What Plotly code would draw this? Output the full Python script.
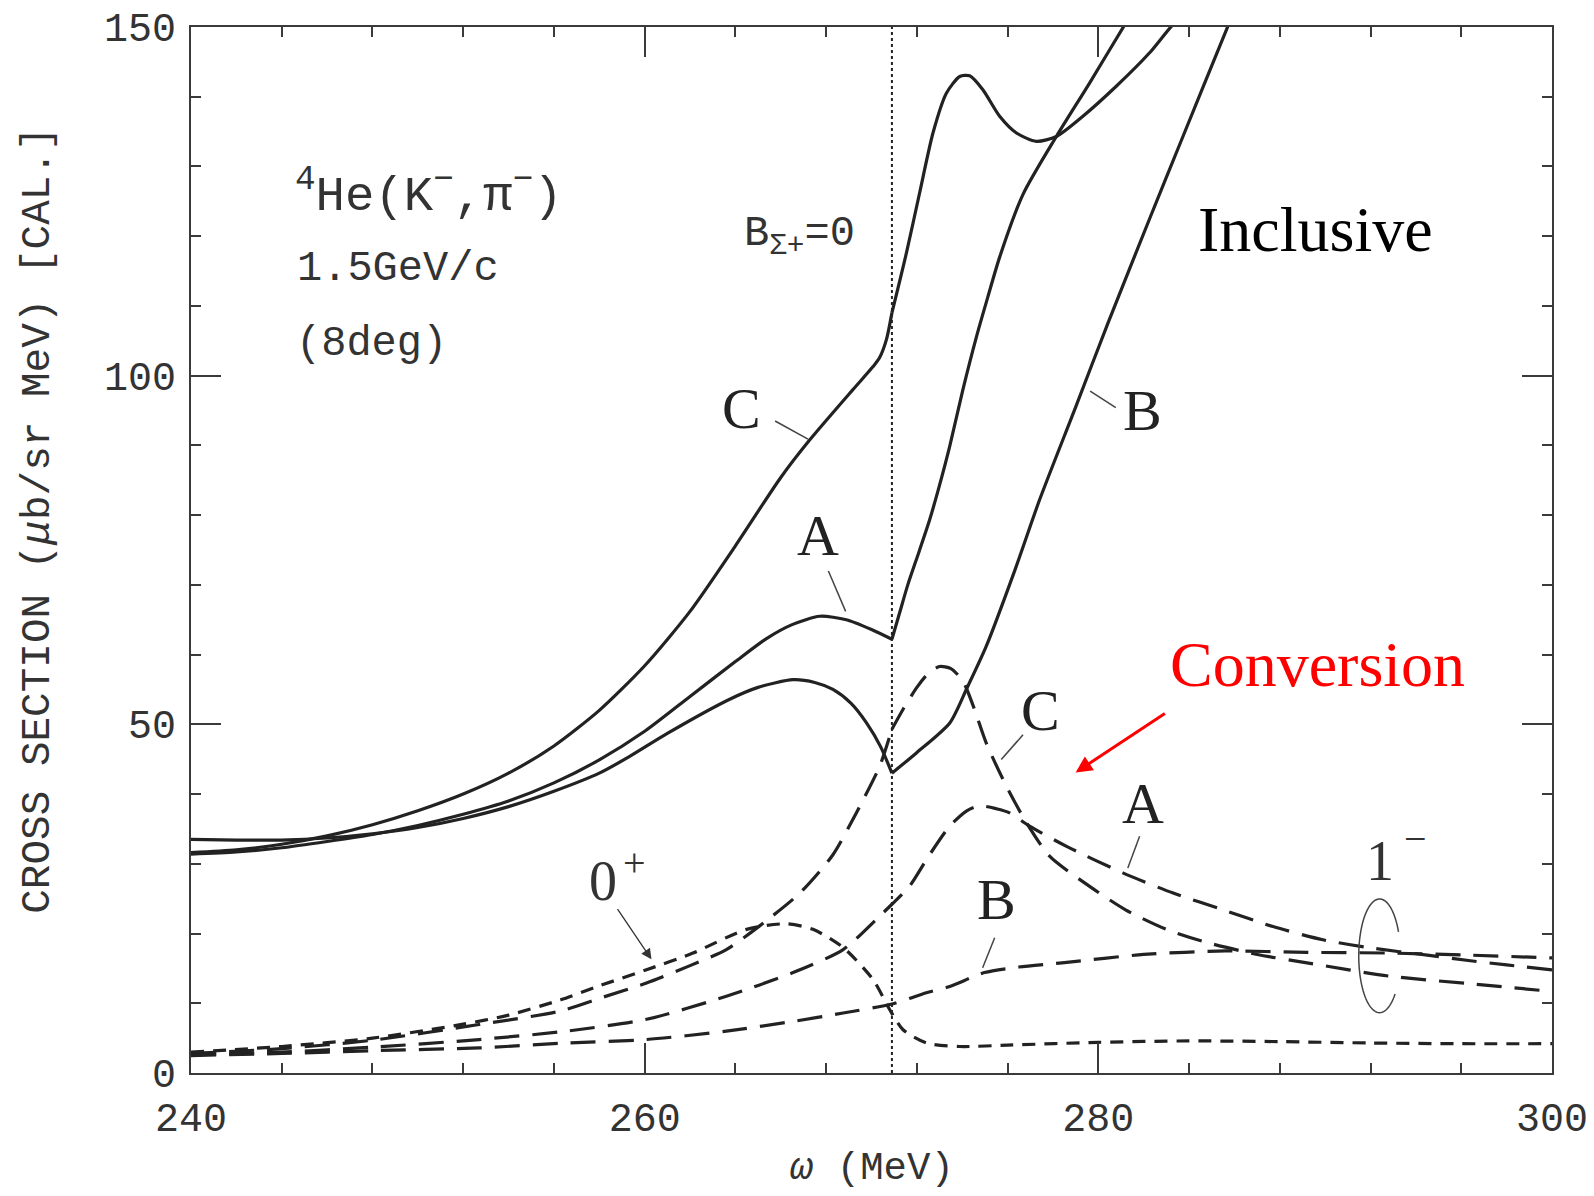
import numpy as np
import plotly.graph_objects as go

THR = 270.9  # B_Sigma+ = 0 threshold (MeV)

# ---------------- Inclusive (solid) ----------------
incl_C_x = [240, 242, 244, 246, 248, 250, 252, 254, 256, 258, 260, 262, 264, 266, 267.28,
            269.18, 270.07, 270.36, 270.66, 270.9, 271.54, 272.12, 272.71, 273.30, 273.89, 274.33,
            274.91, 275.65, 276.39, 277.27, 278.15, 279.32, 280.79, 282.26, 283.22, 284.0]
incl_C_y = [31.6, 32.0, 32.8, 34.0, 35.6, 37.6, 40.0, 43.0, 46.9, 52.0, 58.4, 66.2, 75.6, 85.4, 90.8,
            98.0, 101.3, 102.6, 105.2, 109.0, 117.6, 126.2, 134.8, 140.5, 142.9, 143.0,
            141.0, 137.2, 134.8, 133.6, 134.3, 137.2, 141.5, 146.3, 150.1, 152.6]

incl_A_x = [240, 242, 244, 246, 248, 250, 252, 254, 256, 258, 260, 262, 264, 265.37, 266.5,
            267.72, 268.89, 270, 270.9, 271.24, 271.6, 272.1, 272.56, 273.0, 273.45, 274.03, 274.62,
            275.13, 275.65, 276.68, 278.15, 279.62, 281.16, 281.6]
incl_A_y = [31.4, 31.7, 32.3, 33.2, 34.2, 35.5, 37.1, 39.0, 41.6, 44.9, 49.0, 54.0, 59.0, 62.3, 64.3,
            65.5, 65.0, 63.6, 62.2, 66.0, 70.0, 74.8, 79.3, 84.3, 89.9, 98.0, 105.5,
            111.3, 117.0, 126.0, 134.3, 142.0, 150.3, 152.6]

incl_B_x = [240, 242, 244, 246, 248, 250, 252, 254, 256, 258, 259.34, 261, 263.75, 265, 266.54, 267.5,
            268.3, 269.1, 269.78, 270.4, 270.9, 271.98, 273.45, 274.18, 275.06, 276.31, 277.41,
            279.0, 280.42, 282.26, 283.73, 285.71, 286.1]
incl_B_y = [33.5, 33.4, 33.4, 33.7, 34.3, 35.2, 36.5, 38.2, 40.4, 43.0, 45.4, 48.7, 53.6, 55.3, 56.4, 56.0,
            55.0, 53.0, 50.2, 46.8, 43.0, 45.9, 50.2, 55.0, 61.2, 72.0, 82.2,
            95.5, 107.5, 122.5, 134.3, 150.1, 153.0]

# ---------------- Conversion (dashed) ----------------
conv_0p_x = [240, 244, 248, 252, 254, 256.3, 258, 260.08, 262.13, 264.49, 266.25, 267.42, 268.75,
             270.07, 270.8, 271.39, 272.42, 273.89, 276, 280, 284, 288, 292, 296, 300]
conv_0p_y = [3.0, 3.8, 5.0, 7.0, 8.3, 10.5, 12.5, 14.8, 17.2, 20.6, 21.4, 20.6, 18.0,
             13.4, 9.1, 6.2, 4.3, 3.8, 4.0, 4.4, 4.6, 4.5, 4.3, 4.2, 4.2]

conv_C_x = [240, 244, 248, 252.7, 256.3, 258, 260.08, 262, 263.6, 265.07, 266.84, 268.3, 269.33,
            270.36, 270.9, 271.4, 272.0, 272.5, 273.0, 273.5, 274.03, 274.5, 275.06, 275.95, 276.83,
            277.85, 279.6, 281.2, 283.0, 284.8, 287.0, 289.2, 292.8, 296.4, 300]
conv_C_y = [2.8, 3.5, 4.7, 6.95, 8.9, 10.7, 12.9, 15.4, 17.7, 21.1, 25.8, 31.3, 37.3,
            44.0, 49.3, 52.2, 55.3, 57.3, 58.3, 58.0, 56.2, 52.5, 47.3, 41.1, 35.9,
            31.1, 26.8, 23.4, 20.6, 18.7, 17.0, 15.8, 13.9, 12.8, 11.7]

conv_A_x = [240, 244, 248, 252.7, 256.55, 260.08, 263.6, 266.54, 268.75, 270.36, 270.9, 271.68, 272.5,
            273.45, 274.2, 274.77, 275.5, 276.09, 276.97, 278.6, 281.08, 283.3, 285.5, 287.7, 289.9,
            292.1, 294.5, 296.4, 298, 300]
conv_A_y = [2.6, 3.0, 3.7, 4.8, 6.0, 7.7, 11.0, 14.4, 17.7, 22.5, 24.2, 26.8, 31.0,
            35.4, 37.6, 38.3, 37.9, 37.3, 35.4, 32.5, 28.7, 25.8, 23.4, 21.0, 19.1,
            17.9, 16.9, 16.1, 15.5, 14.8]

conv_B_x = [240, 244, 248, 252.7, 256.55, 260.08, 263.6, 266.54, 268.75, 270.9, 272.42, 273.45, 274.98,
            276.5, 278.4, 282.0, 285.6, 289.2, 292.8, 296.4, 300]
conv_B_y = [2.5, 2.8, 3.2, 3.6, 4.3, 4.8, 6.0, 7.4, 8.6, 9.9, 11.5, 12.4, 14.4,
            15.2, 15.8, 17.0, 17.5, 17.3, 17.2, 16.9, 16.5]

x_ticks = [240, 260, 280, 300]
y_ticks = [0, 50, 100, 150]

INK = "#222222"
GREY = "#3a3a3a"
MONO = "Liberation Mono"
SERIF = "Liberation Serif"

fig = go.Figure()


def add_curve(xs, ys, dash, split=True):
    xs = np.asarray(xs, float)
    ys = np.asarray(ys, float)
    segs = [(xs <= THR + 1e-9), (xs >= THR - 1e-9)] if split else [np.ones_like(xs, bool)]
    for m in segs:
        if m.sum() < 2:
            continue
        fig.add_trace(go.Scatter(
            x=xs[m], y=ys[m], mode="lines",
            line=dict(color=INK, width=3.2, dash=dash, shape="spline", smoothing=0.7),
            hoverinfo="skip", showlegend=False))


SOLID = "solid"
LONG = "25px,13px"
SHORT = "13px,9px"

add_curve(incl_C_x, incl_C_y, SOLID)
add_curve(incl_A_x, incl_A_y, SOLID)
add_curve(incl_B_x, incl_B_y, SOLID)
add_curve(conv_0p_x, conv_0p_y, SHORT, split=False)
add_curve(conv_C_x, conv_C_y, LONG)
add_curve(conv_A_x, conv_A_y, LONG, split=False)
add_curve(conv_B_x, conv_B_y, LONG, split=False)

shapes = []
# threshold dotted line
shapes.append(dict(type="line", xref="x", yref="y", x0=THR, x1=THR, y0=0, y1=150,
                   line=dict(color=INK, width=2, dash="dot")))
# leader lines for labels
leaders = [
    ((265.75, 93.5), (267.2, 90.9)),     # solid C
    ((268.1, 72.0), (268.86, 66.2)),     # solid A
    ((279.64, 97.8), (280.77, 95.4)),    # solid B
    ((276.68, 48.5), (275.72, 44.95)),   # dashed C
    ((281.82, 33.95), (281.3, 29.4)),    # dashed A
    ((275.43, 19.4), (274.9, 15.1)),     # dashed B
]
for (xa, ya), (xb, yb) in leaders:
    shapes.append(dict(type="line", xref="x", yref="y", x0=xa, y0=ya, x1=xb, y1=yb,
                       line=dict(color="#444", width=1.5)))

# open ellipse around the 1- curves
cx, cy, rx, ry = 292.4, 16.8, 0.92, 8.15
t = np.radians(np.linspace(25, 318, 80))
ex = cx + rx * np.cos(t)
ey = cy + ry * np.sin(t)
path = "M " + " L ".join(f"{a:.4f},{b:.4f}" for a, b in zip(ex, ey))
shapes.append(dict(type="path", xref="x", yref="y", path=path,
                   line=dict(color="#444", width=1.5)))

ann = []


def txt(x, y, s, size, family=MONO, color="#333", xanchor="center", yanchor="middle"):
    ann.append(dict(x=x, y=y, xref="x", yref="y", text=s, showarrow=False,
                    font=dict(family=family, size=size, color=color),
                    xanchor=xanchor, yanchor=yanchor))


txt(244.5, 126.3, "<sup>4</sup>He(K<sup>−</sup>,π<sup>−</sup>)", 49, xanchor="left")
txt(244.6, 115.3, "1.5GeV/c", 42, xanchor="left")
txt(244.55, 104.6, "(8deg)", 42, xanchor="left")
txt(264.3, 119.9, "B<sub>Σ+</sub>=0", 42, xanchor="left")

txt(284.3, 121.0, "Inclusive", 64, family=SERIF, color="#000", xanchor="left")
txt(283.05, 58.6, "Conversion", 64, family=SERIF, color="#ff0000", xanchor="left")

# curve labels
txt(264.28, 95.3, "C", 58, family=SERIF, color="#222")
txt(267.64, 77.1, "A", 58, family=SERIF, color="#222")
txt(281.93, 95.0, "B", 58, family=SERIF, color="#222")
txt(277.46, 52.0, "C", 58, family=SERIF, color="#222")
txt(281.98, 38.7, "A", 58, family=SERIF, color="#222")
txt(275.53, 24.9, "B", 58, family=SERIF, color="#222")
txt(258.17, 27.5, "0", 56, family=SERIF, color="#333")
txt(259.56, 30.2, "+", 40, family=SERIF, color="#333")
txt(292.4, 30.4, "1", 56, family=SERIF, color="#333")
txt(294.0, 33.6, "−", 40, family=SERIF, color="#333")

# 0+ arrow
ann.append(dict(x=260.3, y=16.3, ax=258.76, ay=23.7, xref="x", yref="y", axref="x", ayref="y",
                text="", showarrow=True, arrowhead=2, arrowsize=1.6, arrowwidth=1.3,
                arrowcolor="#333"))
# red Conversion arrow
ann.append(dict(x=279.0, y=43.1, ax=283.0, ay=51.7, xref="x", yref="y", axref="x", ayref="y",
                text="", showarrow=True, arrowhead=2, arrowsize=1.1, arrowwidth=3,
                arrowcolor="#ff0000"))

# axis titles
ann.append(dict(x=-0.1124, y=0.528, xref="paper", yref="paper", textangle=-90,
                text="CROSS SECTION (<i>μ</i>b/sr MeV) [CAL.]", showarrow=False,
                font=dict(family=MONO, size=41, color="#333"), xanchor="center", yanchor="middle"))
ann.append(dict(x=0.5, y=-0.092, xref="paper", yref="paper",
                text="<i>ω</i> (MeV)", showarrow=False,
                font=dict(family=MONO, size=39, color="#333"), xanchor="center", yanchor="middle"))

axis_common = dict(
    showline=True, linecolor=GREY, linewidth=2, mirror="ticks",
    ticks="inside", ticklen=30, tickwidth=1.5, tickcolor=GREY,
    showgrid=False, zeroline=False, automargin=False,
    tickfont=dict(family=MONO, size=40, color="#333"),
)

# page body has an 8px default margin, so the figure is made 8px smaller
fig.update_layout(
    width=1586, height=1188,
    margin=dict(l=183, r=42, t=19, b=123, autoexpand=False),
    paper_bgcolor="white", plot_bgcolor="white",
    showlegend=False,
    shapes=shapes, annotations=ann,
    xaxis=dict(range=[240, 300], tickmode="array", tickvals=x_ticks,
               ticktext=[str(v) for v in x_ticks], ticklabelstandoff=8,
               minor=dict(dtick=4, tick0=240, ticks="inside", ticklen=10, tickwidth=1.5,
                          tickcolor=GREY, showgrid=False),
               **axis_common),
    yaxis=dict(range=[0, 150], tickmode="array", tickvals=y_ticks,
               ticktext=[str(v) for v in y_ticks], ticklabelstandoff=5,
               minor=dict(dtick=10, tick0=0, ticks="inside", ticklen=10, tickwidth=1.5,
                          tickcolor=GREY, showgrid=False),
               **axis_common),
)

fig.write_html("out.html")
